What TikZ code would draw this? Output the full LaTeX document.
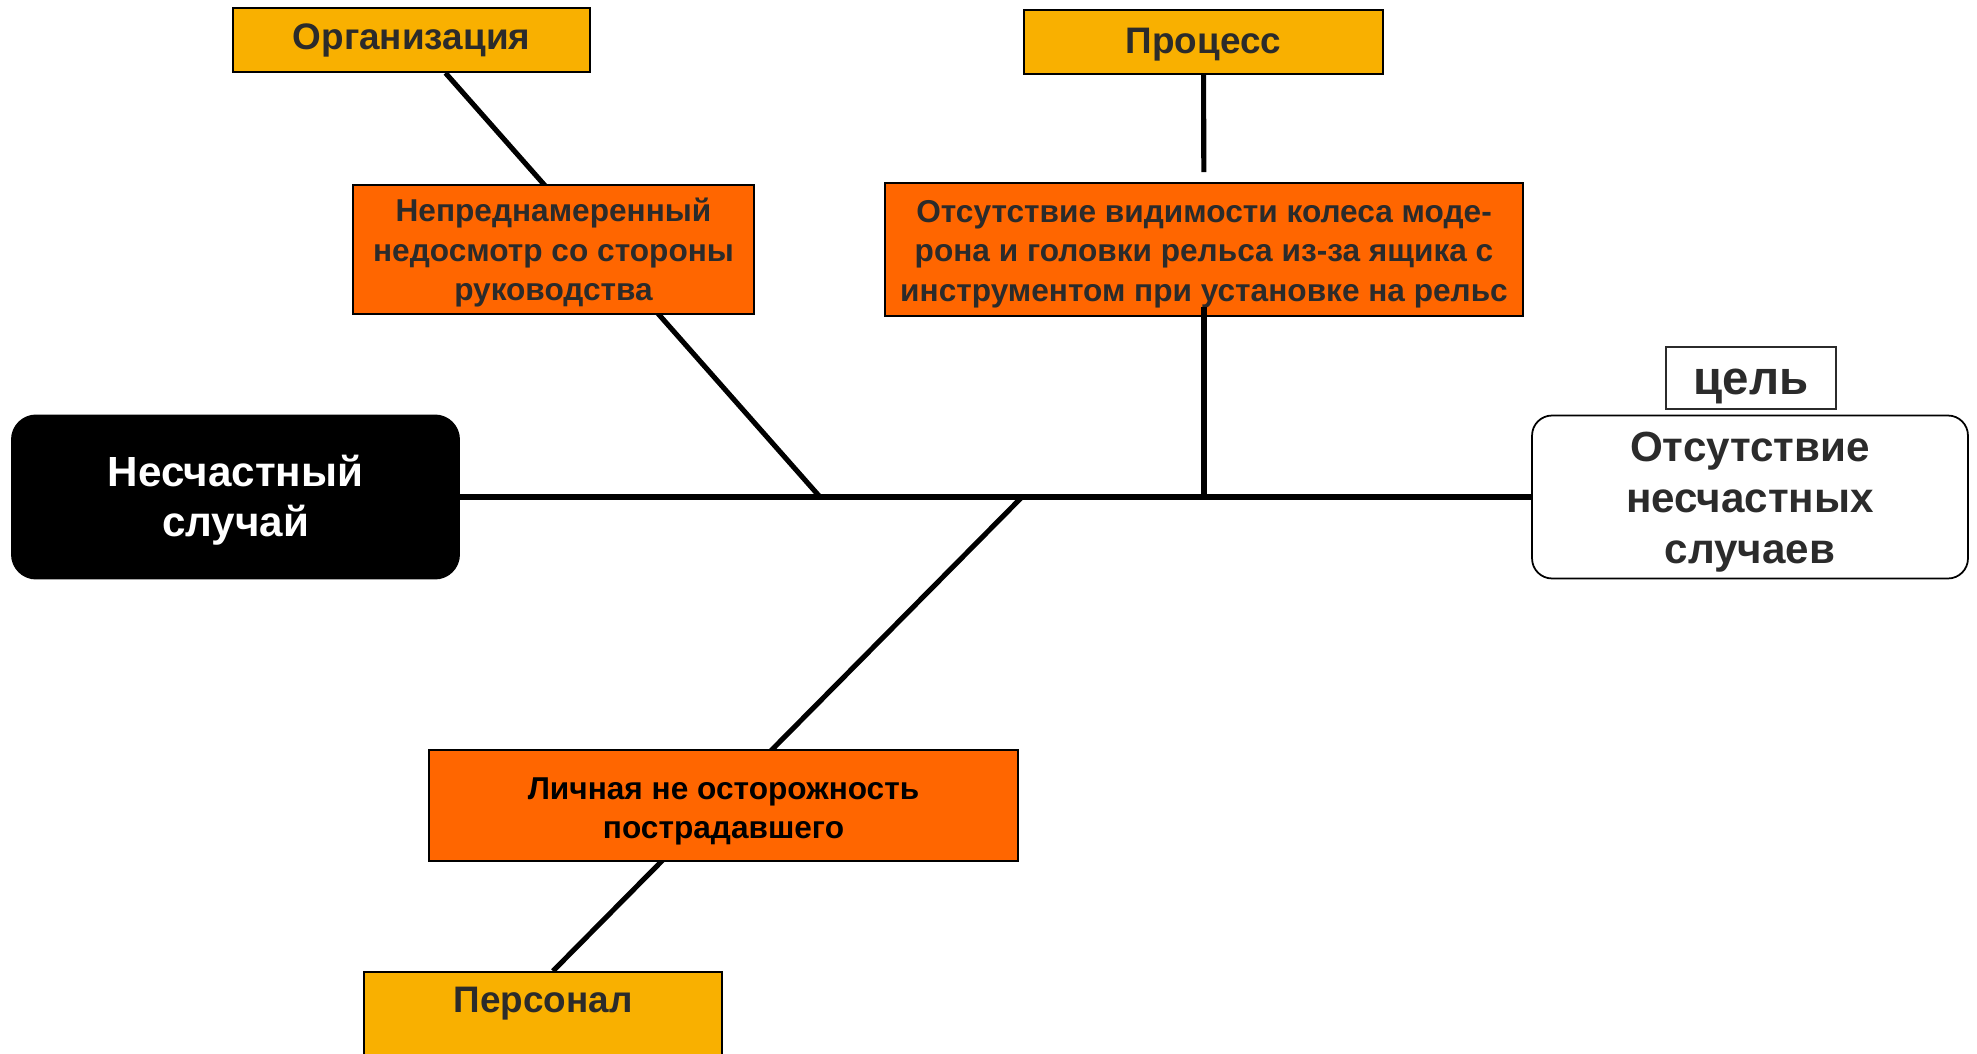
\documentclass[tikz,border=0pt]{standalone}
\usepackage{fontspec}
\setmainfont{Liberation Sans}
\usetikzlibrary{backgrounds}
\definecolor{ink}{HTML}{2B2B2B}
\definecolor{catfill}{HTML}{F9B000}
\definecolor{causefill}{HTML}{FF6600}
\newcommand{\catfont}{\fontsize{21}{25}\selectfont\bfseries}
\newcommand{\causefont}{\fontsize{18}{22.5}\selectfont\bfseries}
\newcommand{\headfont}{\fontsize{24}{29}\selectfont\bfseries}
\newcommand{\tagfont}{\fontsize{27}{30}\selectfont\bfseries}
\newcommand{\lift}[1]{\rule{0pt}{#1}}
\tikzset{
 every node/.append style={text=ink,align=center,inner sep=0pt},
 category/.style={draw=black,fill=catfill,line width=1.1pt,font=\catfont},
 cause/.style={draw=black,fill=causefill,line width=1.1pt,font=\causefont},
 event/.style={fill=black,rounded corners=0.5cm,font=\headfont,text=white},
 goal/.style={draw=black,fill=white,rounded corners=0.4cm,line width=1pt,font=\headfont},
 tag/.style={draw=ink,fill=white,line width=0.9pt,font=\tagfont},
 bone/.style={draw=black,line width=2.9pt},
}
\begin{document}
\begin{tikzpicture}[x=0.02cm,y=-0.02cm]

\useasboundingbox (0,0) rectangle (1977,1054);
\node[category,minimum width=7.14cm,minimum height=1.28cm] (org) at (411.5,40) {Организация};
\node[category,minimum width=7.18cm,minimum height=1.28cm] (proc) at (1203.5,42) {\lift{18pt}Процесс};
\node[category,minimum width=7.16cm,anchor=north,text height=23pt,text depth=34pt] (pers) at (543,971) {Персонал};
\node[cause,minimum width=8.02cm,minimum height=2.58cm] (c1) at (553.5,249.5) {\lift{17pt}Непреднамеренный\\недосмотр со стороны\\руководства};
\node[cause,minimum width=12.76cm,minimum height=2.66cm] (c2) at (1204,249.5) {\lift{17.5pt}Отсутствие видимости колеса моде-\\рона и головки рельса из-за ящика с\\инструментом при установке на рельс};
\node[cause,text=black,minimum width=11.78cm,minimum height=2.22cm] (c3) at (723.5,805.5) {\lift{19pt}Личная не осторожность\\пострадавшего};
\node[event,minimum width=8.98cm,minimum height=3.3cm] (event) at (235.5,497) {\lift{21.5pt}Несчастный\\случай};
\node[goal,minimum width=8.72cm,minimum height=3.26cm] (goal) at (1750,497) {\lift{23pt}Отсутствие\\несчастных\\случаев};
\node[tag,minimum width=3.4cm,minimum height=1.24cm] (tag) at (1751,378) {\lift{24pt}цель};

% joints on the spine
\coordinate (j1) at (820,497);
\coordinate (j2) at (1204,497);
\coordinate (j3) at (1022,497);

\begin{scope}[on background layer]
\draw[bone] (event) -- (goal);
\draw[bone] (j1) -- ([xshift=0.68cm]org.south);
\draw[bone] (j3) -- ([xshift=0.2cm]pers.north);
\end{scope}
\draw[bone,shorten >=0.2cm] (proc) -- (c2);
\draw[bone,shorten <=-0.2cm] (c2) -- (j2);

\end{tikzpicture}
\end{document}
